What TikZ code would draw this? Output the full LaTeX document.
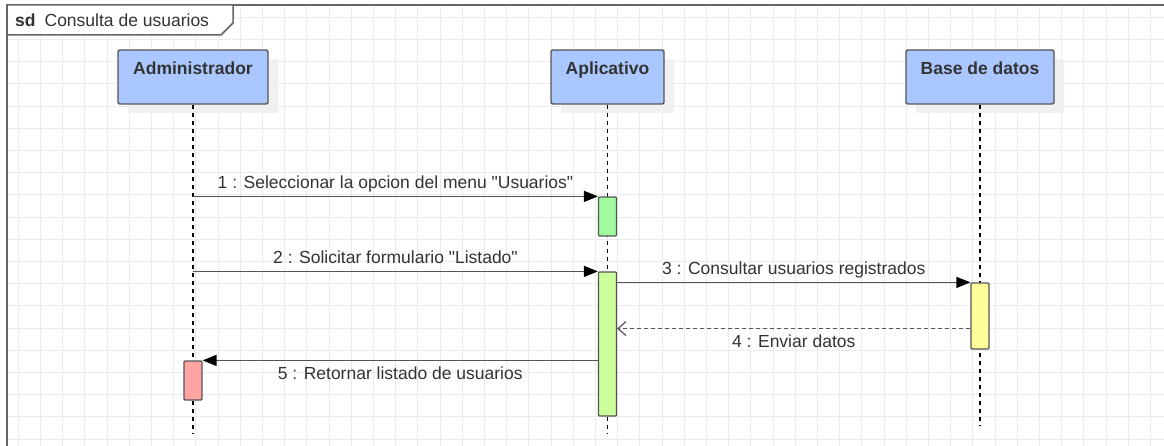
\documentclass[tikz,border=0pt]{standalone}
\usepackage{fontspec}
\setmainfont{Liberation Sans}
% family without the TeX quote mapping, for straight double quotes
\newfontfamily\plainsans{Liberation Sans}
\usetikzlibrary{arrows.meta,shadows}

\definecolor{ink}{HTML}{333333}
\definecolor{edge}{HTML}{555555}
\definecolor{framegray}{HTML}{666666}
\definecolor{gridgray}{HTML}{EBEBEB}
\definecolor{headblue}{RGB}{170,199,255}
\definecolor{actgreen}{RGB}{160,250,160}
\definecolor{actlime}{RGB}{204,255,153}
\definecolor{actyellow}{RGB}{255,255,153}
\definecolor{actpink}{RGB}{255,163,163}

\newcommand{\diagfont}{\fontsize{17.5}{20}\selectfont}
\newcommand{\dq}{{\plainsans\symbol{34}}}

\tikzset{
  gridline/.style={draw=gridgray, line width=0.9pt},
  framestyle/.style={draw=framegray, line width=1.5pt},
  head/.style={draw=edge, line width=1.4pt, fill=headblue, rounded corners=2pt,
    inner sep=0pt, text height=25pt, text depth=29pt,
    font=\bfseries\diagfont, text=ink,
    drop shadow={shadow xshift=10pt, shadow yshift=-9pt, fill=black!6, opacity=1}},
  lifeline/.style={draw=black, line width=1.3pt, dash pattern=on 4pt off 4pt},
  act/.style={draw=edge, line width=1.2pt, minimum width=18pt, inner sep=0pt, rounded corners=1pt},
  msg/.style={draw=edge, line width=1.4pt, -{Triangle[length=14pt,width=11pt,color=black]}},
  reply/.style={draw=edge, line width=1.2pt, dash pattern=on 4pt off 3pt,
    -{Straight Barb[length=8pt,width=14pt,color=edge]}},
  lbl/.style={inner sep=0pt, font=\diagfont, text=ink},
}

\begin{document}
\begin{tikzpicture}[x=1pt, y=-1pt]
  \clip (0,0) rectangle (1164,446);
  \fill[white] (0,0) rectangle (1164,446);

  % background grid inside the frame
  \foreach \i in {0,...,52}
    \draw[gridline] ({18.3+22.2*\i},5) -- ({18.3+22.2*\i},446);
  \foreach \j in {0,...,19}
    \draw[gridline] (7,{17.3+22.2*\j}) -- (1164,{17.3+22.2*\j});

  % sequence diagram frame with its name tab
  \draw[framestyle] (1170,5) -- (7,5) -- (7,452);
  \draw[framestyle, fill=white] (7,5) -- (233,5) -- (233,23) -- (221,35) -- (7,35) -- cycle;
  \node[lbl, anchor=base west] (title) at (15,26.5) {\textbf{sd}\hspace{9pt}Consulta de usuarios};

  % lifeline heads
  \node[head, minimum width=150pt] (adm) at (193,77) {Administrador};
  \node[head, minimum width=113pt] (app) at (607.5,77) {Aplicativo};
  \node[head, minimum width=148pt] (db) at (980,77) {Base de datos};

  % lifelines
  \coordinate (bottom) at (0,434);
  \coordinate (dbbottom) at (0,426);
  \draw[lifeline] (adm.south) -- (adm.south |- bottom);
  \draw[lifeline] (app.south) -- (app.south |- bottom);
  \draw[lifeline] (db.south) -- (db.south |- dbbottom);

  % activation bars
  \node[act, fill=actgreen, minimum height=39pt] (act1) at (607.5,216.5) {};
  \node[act, fill=actlime, minimum height=144pt] (act2) at (607.5,344) {};
  \node[act, fill=actyellow, minimum height=66pt] (act3) at (980,316) {};
  \node[act, fill=actpink, minimum height=39pt] (act5) at (193,380.5) {};

  % messages
  \draw[msg] (adm.south |- act1.north) -- (act1.north west)
    node[lbl, midway, anchor=base, yshift=7.5pt] {1 : Seleccionar la opcion del menu \dq Usuarios\dq};
  \draw[msg] (adm.south |- act2.north) -- (act2.north west)
    node[lbl, midway, anchor=base, yshift=8pt] {2 : Solicitar formulario \dq Listado\dq};
  \draw[msg] (act2.east |- act3.north) -- (act3.north west)
    node[lbl, midway, anchor=base, yshift=8pt] {3 : Consultar usuarios registrados};
  \coordinate (r4) at ([yshift=21pt]act3.south west);
  \draw[reply] (r4) -- (act2.east |- r4)
    node[lbl, midway, anchor=base, yshift=-19pt] {4 : Enviar datos};
  \draw[msg] (act2.west |- act5.north) -- (act5.north east)
    node[lbl, midway, anchor=base, yshift=-19pt] {5 : Retornar listado de usuarios};
\end{tikzpicture}
\end{document}
